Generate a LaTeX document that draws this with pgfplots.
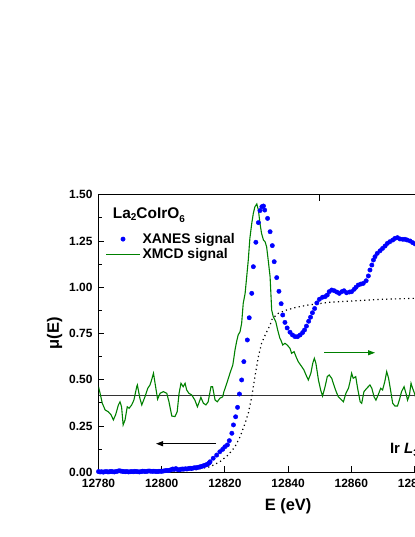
\documentclass[border=0pt]{standalone}
\usepackage{pgfplots}
\pgfplotsset{compat=1.18}
\usepackage{fontspec}
\setmainfont{Liberation Sans}
\usetikzlibrary{arrows.meta}
\definecolor{xanes}{RGB}{0,0,255}
\definecolor{xmcd}{RGB}{0,128,0}

% XANES signal (blue dots)
\pgfplotstableread{
E mu
12780.0 0.004
12780.5 0.002
12781.0 0.003
12781.5 0.001
12782.0 0.003
12782.5 0.004
12783.0 0.002
12783.5 0.003
12784.0 0.005
12784.5 0.003
12785.0 0.002
12785.5 0.004
12786.0 0.006
12786.5 0.008
12787.0 0.007
12787.5 0.005
12788.0 0.004
12788.5 0.003
12789.0 0.004
12789.5 0.002
12790.0 0.003
12790.5 0.004
12791.0 0.003
12791.5 0.005
12792.0 0.004
12792.5 0.003
12793.0 0.002
12793.5 0.004
12794.0 0.006
12794.5 0.005
12795.0 0.004
12795.5 0.006
12796.0 0.007
12796.5 0.006
12797.0 0.005
12797.5 0.006
12798.0 0.005
12798.5 0.004
12799.0 0.005
12799.5 0.006
12800.0 0.005
12800.5 0.007
12801.0 0.008
12801.5 0.010
12802.0 0.009
12802.5 0.011
12803.0 0.014
12803.5 0.018
12804.0 0.016
12804.5 0.020
12805.0 0.015
12805.5 0.013
12806.0 0.016
12806.5 0.018
12807.0 0.017
12807.5 0.019
12808.0 0.018
12808.5 0.020
12809.0 0.022
12809.5 0.021
12810.0 0.023
12810.5 0.025
12811.0 0.024
12811.5 0.027
12812.0 0.029
12812.5 0.031
12813.0 0.034
12813.5 0.037
12814.0 0.040
12814.5 0.044
12815.0 0.050
12815.3 0.057
12816.3 0.076
12817.4 0.093
12818.4 0.111
12819.3 0.124
12820.0 0.138
12820.8 0.148
12821.4 0.171
12822.2 0.211
12822.7 0.256
12823.4 0.300
12824.0 0.351
12824.6 0.423
12825.3 0.499
12826.0 0.598
12827.1 0.715
12827.7 0.835
12828.5 0.967
12829.0 1.111
12829.8 1.243
12830.6 1.349
12831.1 1.414
12831.7 1.435
12832.2 1.439
12832.6 1.417
12833.5 1.372
12834.3 1.300
12835.0 1.225
12835.6 1.138
12836.4 1.052
12837.1 0.978
12837.8 0.911
12838.3 0.850
12839.0 0.810
12839.7 0.780
12840.6 0.757
12841.4 0.742
12842.2 0.733
12843.0 0.733
12843.8 0.742
12844.6 0.755
12845.2 0.769
12845.8 0.790
12846.5 0.816
12847.1 0.838
12847.7 0.862
12848.4 0.885
12849.1 0.915
12849.9 0.935
12850.9 0.946
12851.7 0.949
12852.4 0.958
12853.0 0.976
12853.8 0.985
12854.6 0.981
12855.4 0.974
12856.2 0.967
12857.0 0.976
12857.7 0.981
12858.5 0.970
12859.4 0.974
12860.1 0.976
12860.9 0.989
12861.5 1.000
12862.2 1.012
12863.0 1.017
12863.8 1.021
12864.7 1.035
12865.4 1.061
12865.9 1.093
12866.5 1.120
12867.0 1.147
12867.5 1.165
12868.2 1.183
12869.1 1.197
12869.9 1.210
12870.7 1.223
12871.4 1.237
12872.2 1.246
12873.1 1.255
12873.8 1.264
12874.6 1.268
12875.4 1.261
12876.3 1.259
12877.0 1.259
12877.7 1.255
12878.6 1.250
12879.4 1.241
12880.2 1.234
12881.0 1.228
12882.0 1.220
}\xanes

% XMCD signal (green line, drawn in left-axis units)
\pgfplotstableread{
E d
12780.0 0.4625
12780.5 0.427
12781.2 0.373
12782.1 0.337
12783.1 0.327
12784.0 0.310
12784.7 0.283
12785.4 0.310
12786.3 0.364
12786.8 0.381
12787.3 0.354
12787.8 0.256
12788.4 0.283
12789.1 0.354
12789.7 0.346
12790.5 0.364
12791.2 0.390
12792.1 0.4625
12792.3 0.472
12793.1 0.400
12793.7 0.364
12794.7 0.408
12795.6 0.454
12796.3 0.472
12796.8 0.499
12797.4 0.535
12797.9 0.481
12798.7 0.395
12799.5 0.427
12800.5 0.436
12801.6 0.427
12802.3 0.381
12803.2 0.304
12804.2 0.301
12804.9 0.327
12805.5 0.427
12806.1 0.481
12806.8 0.4625
12807.4 0.481
12807.9 0.445
12808.6 0.427
12809.5 0.418
12810.5 0.390
12811.3 0.354
12811.9 0.381
12812.4 0.405
12813.2 0.373
12814.0 0.364
12814.7 0.381
12815.6 0.4625
12816.1 0.4625
12816.9 0.390
12817.6 0.381
12818.4 0.400
12819.3 0.408
12819.7 0.436
12820.6 0.481
12821.6 0.535
12822.5 0.580
12822.9 0.625
12823.2 0.661
12823.7 0.706
12824.2 0.742
12824.8 0.760
12825.3 0.805
12825.8 0.913
12826.4 0.967
12826.9 1.057
12827.4 1.147
12827.9 1.264
12828.5 1.345
12829.0 1.400
12829.5 1.435
12830.1 1.450
12830.6 1.417
12831.1 1.345
12831.6 1.291
12832.2 1.255
12832.7 1.246
12833.2 1.219
12833.7 1.147
12834.3 1.057
12834.6 0.949
12834.8 0.877
12835.3 0.841
12836.1 0.814
12836.7 0.769
12837.4 0.724
12837.7 0.715
12838.3 0.688
12839.0 0.697
12839.7 0.688
12840.6 0.670
12841.1 0.643
12841.9 0.652
12842.5 0.625
12843.2 0.598
12844.3 0.571
12845.0 0.553
12845.9 0.517
12846.4 0.499
12847.2 0.535
12847.8 0.589
12848.3 0.616
12848.8 0.589
12849.6 0.499
12850.3 0.445
12850.9 0.412
12851.7 0.4625
12852.4 0.517
12853.0 0.526
12853.8 0.508
12854.3 0.481
12855.2 0.436
12855.9 0.408
12857.0 0.390
12857.5 0.381
12858.3 0.427
12859.1 0.454
12859.6 0.490
12860.1 0.535
12860.6 0.508
12861.4 0.517
12862.0 0.454
12862.8 0.381
12863.3 0.373
12864.0 0.436
12864.9 0.454
12865.9 0.472
12866.5 0.454
12867.2 0.408
12867.8 0.390
12868.5 0.418
12869.3 0.454
12869.9 0.445
12870.6 0.490
12871.2 0.544
12871.8 0.508
12872.5 0.436
12873.1 0.373
12873.8 0.358
12874.6 0.358
12875.2 0.390
12875.9 0.436
12876.7 0.4625
12877.3 0.427
12877.8 0.390
12878.4 0.418
12878.9 0.481
12879.4 0.454
12879.8 0.436
12880.5 0.400
12881.5 0.420
}\xmcd

% edge step (dotted)
\pgfplotstableread{
E s
12780.0 0.000
12800.0 0.003
12810.0 0.012
12815.3 0.030
12818.4 0.057
12821.0 0.093
12823.2 0.138
12824.8 0.192
12826.4 0.265
12827.4 0.319
12828.5 0.408
12829.5 0.517
12830.6 0.625
12831.6 0.697
12832.7 0.740
12834.3 0.796
12835.0 0.830
12836.9 0.859
12839.5 0.877
12842.7 0.892
12846.4 0.904
12853.3 0.919
12861.7 0.927
12870.0 0.935
12880.0 0.940
12900.0 0.950
}\step

\begin{document}
\begin{tikzpicture}
\useasboundingbox (0,0) rectangle (415bp,537bp);
\clip (0,0) rectangle (415bp,537bp);
\begin{axis}[
    at={(98.5bp,64.7bp)}, anchor=south west,
    scale only axis, width=379.2bp, height=277.6bp,
    xmin=12780, xmax=12900, ymin=0, ymax=1.5,
    xtick={12780,12800,...,12900}, minor x tick num=1,
    ytick={0,0.25,...,1.5}, minor y tick num=1,
    xtick pos=bottom, ytick pos=left,
    tick align=inside,
    major tick length=6bp, minor tick length=3.5bp,
    axis line style={line width=1bp},
    every tick/.style={black, line width=0.9bp},
    scaled x ticks=false, scaled y ticks=false,
    /pgf/number format/assume math mode=true,
    x tick label style={yshift=-3bp, /pgf/number format/fixed, /pgf/number format/precision=0, /pgf/number format/1000 sep={}},
    y tick label style={xshift=-2.5bp, /pgf/number format/fixed, /pgf/number format/fixed zerofill, /pgf/number format/precision=2},
    tick label style={font=\bfseries\fontsize{12}{14}\selectfont},
    xlabel={E (eV)}, ylabel={μ(E)},
    label style={font=\bfseries\fontsize{16.5}{19}\selectfont},
    xlabel style={yshift=-4bp},
    legend style={draw=none, fill=none, at={(0.01,0.876)}, anchor=north west,
        font=\bfseries\fontsize{14}{16}\selectfont},
    legend cell align=left,
    legend image code/.code={\draw[mark repeat=2,mark phase=2,#1] plot coordinates {(0bp,0bp) (17bp,0bp) (34bp,0bp)};},
  ]
  \addplot[forget plot, black!80, line width=0.8bp] coordinates {(12780,0.416) (12900,0.416)};
  \addplot[forget plot, black, line width=1.2bp, dash pattern=on 1.2bp off 3.2bp] table[x=E, y=s] {\step};
  \addplot[only marks, mark=*, mark size=2.2bp, color=xanes, mark options={draw=none, fill=xanes}] table[x=E, y=mu] {\xanes};
  \addplot[xmcd, line width=1.1bp, mark=none] table[x=E, y=d] {\xmcd};
  \legend{XANES signal, XMCD signal}

  \node[anchor=base west, font=\bfseries\fontsize{15.5}{18}\selectfont, inner sep=0pt]
    at (axis cs:12784.5,1.372) {La\raisebox{-2.5bp}{\fontsize{10}{12}\selectfont 2}CoIrO\raisebox{-4.5bp}{\fontsize{10}{12}\selectfont 6}};
  \node[anchor=base west, font=\bfseries\fontsize{15}{18}\selectfont, inner sep=0pt]
    at (axis cs:12872.2,0.099) {Ir \textit{L}\raisebox{-3bp}{\fontsize{10}{12}\selectfont 3} edge};
  \draw[black, line width=0.9bp, -{Triangle[length=7bp,width=5bp]}]
    (axis cs:12817.2,0.1545) -- (axis cs:12798.2,0.1545);
  \draw[xmcd, line width=0.9bp, -{Triangle[length=7bp,width=5bp]}]
    (axis cs:12851.4,0.646) -- (axis cs:12867.5,0.646);
\end{axis}
\begin{axis}[
    at={(98.5bp,64.7bp)}, anchor=south west,
    scale only axis, width=379.2bp, height=277.6bp,
    xmin=12780, xmax=12900, ymin=0, ymax=1.5,
    axis x line*=top, hide y axis,
    x axis line style={-, line width=1bp},
    xtick={12850}, xticklabels={}, minor x tick num=0,
    tick align=inside, major tick length=6bp,
    every tick/.style={black, line width=0.9bp},
  ]
  \addplot[draw=none] coordinates {(12800,0.5)};
\end{axis}
\end{tikzpicture}
\end{document}
